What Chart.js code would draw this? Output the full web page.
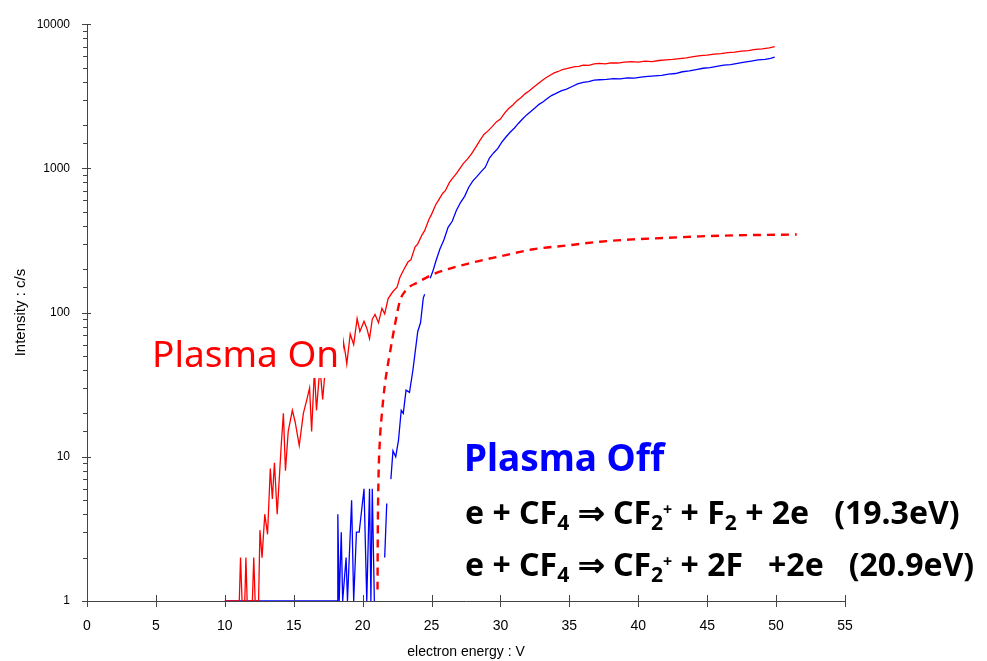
<!DOCTYPE html>
<html>
<head>
<meta charset="utf-8">
<script src="https://cdn.jsdelivr.net/npm/chart.js@4/dist/chart.umd.min.js"></script>
<style>
  html, body { margin: 0; padding: 0; background: #fff; }
  #wrap { position: relative; width: 987px; height: 661px; }
  canvas { position: absolute; left: 0; top: 0; }
  .note { position: absolute; white-space: pre; font-family: "Noto Sans", "Open Sans", sans-serif; }
  #on { left: 150px; top: 333px; width: 193px; height: 45px; background: #fff; color: #ff0000; font-size: 37px; line-height: 40px; padding-left: 2px; box-sizing: border-box; }
  #off { left: 464px; top: 437px; color: #0000ff; font-size: 37px; font-weight: bold; line-height: 40px; }
  .eq { left: 465px; color: #000; font-size: 32px; font-weight: bold; line-height: 40px; }
  .eq .lo, .eq .hi { position: relative; font-size: 0.66em; }
  .eq .lo { top: 0.3em; }
  .eq .hi { top: -0.55em; font-size: 0.5em; }
  #eq1 { top: 492px; }
  #eq2 { top: 544px; }
</style>
</head>
<body>
<div id="wrap">
  <canvas id="chart" width="987" height="661"></canvas>
  <div class="note" id="on">Plasma On</div>
  <div class="note" id="off">Plasma Off</div>
  <div class="note eq" id="eq1">e + CF<span class="lo">4</span> ⇒ CF<span class="lo">2</span><span class="hi">+</span> + F<span class="lo">2</span> + 2e   (19.3eV)</div>
  <div class="note eq" id="eq2">e + CF<span class="lo">4</span> ⇒ CF<span class="lo">2</span><span class="hi">+</span> + 2F   +2e   (20.9eV)</div>
</div>
<script>
// plasma on, measured signal
const onX = [10, 11.05, 11.14, 11.25, 11.45, 11.53, 11.62, 12.0, 12.1, 12.2, 12.45, 12.55, 12.7, 12.9, 13.1, 13.3, 13.45, 13.6, 13.8,
  14.1, 14.25, 14.4, 14.6, 14.9, 15.1, 15.4, 15.7, 16.0, 16.15, 16.3, 16.5, 16.65, 16.9, 17.1, 17.3, 17.5, 17.7, 17.85, 18.2, 18.45,
  18.6, 18.75, 18.85, 19.1, 19.35, 19.6, 19.8, 20.1, 20.3, 20.5, 20.7, 20.9, 21.15, 21.4, 21.6, 21.85, 22.2, 22.5, 22.7,
  23.0, 23.3, 23.5, 23.8, 24.0, 24.3, 24.5, 24.8, 25.0, 25.3, 25.5, 25.8, 26.0, 26.3, 26.5, 26.8, 27.0, 27.3, 27.6, 27.9,
  28.2, 28.5, 28.8, 29.1, 29.4, 29.7, 30.0, 30.3, 30.6, 30.9, 31.2, 31.5, 31.8, 32.1, 32.4, 32.7, 33.0, 33.3, 33.6, 33.9,
  34.2, 34.5, 34.8, 35.1, 35.4, 35.7, 36.0, 36.4, 36.8, 37.2, 37.6, 38.0, 38.5, 39.0, 39.5, 40.0, 40.5, 41.0, 41.5, 42.0,
  42.5, 43.0, 43.5, 44.0, 44.5, 45.0, 45.5, 46.0, 46.5, 47.0, 47.5, 48.0, 48.5, 49.0, 49.5, 49.9];
const onY = [1, 1, 2, 1, 1, 2, 1, 1, 2, 1, 1, 3.1, 2, 4, 2.9, 8.3, 5.1, 9.1, 4,
  12.3, 20, 8, 15, 21, 17.5, 12, 20, 26, 30, 15, 40, 21, 42, 25, 42, 40, 44, 40, 48, 42,
  63, 52, 44, 71, 60, 91, 74, 87, 78, 66, 90, 97, 85, 107, 98, 125, 140, 150, 175,
  200, 225, 232, 285, 300, 345, 370, 440, 480, 560, 600, 670, 700, 800, 850, 920, 980, 1080, 1160, 1260,
  1400, 1560, 1720, 1820, 1950, 2100, 2200, 2420, 2600, 2750, 2950, 3100, 3300, 3450, 3650, 3850, 4050, 4250, 4430, 4600,
  4700, 4850, 4920, 5000, 5080, 5100, 5200, 5180, 5300, 5350, 5300, 5400, 5380, 5450, 5500, 5450, 5550, 5500, 5600, 5650,
  5700, 5780, 5850, 5950, 6050, 6100, 6200, 6250, 6350, 6400, 6500, 6550, 6700, 6750, 6850, 7000];

// plasma off, measured signal (null = gap in trace)
const offX = [10, 18.15, 18.2, 18.3, 18.45, 18.55, 18.8, 18.9, 19.2, 19.35, 19.55, 19.75, 20.1, 20.3, 20.5, 20.6, 20.7, 20.85,
  21.2, 21.6, 21.75, 21.9, 22.05, 22.2, 22.4, 22.6, 22.8, 22.95, 23.15, 23.4, 23.65, 24.0, 24.2, 24.4, 24.5, 24.7,
  24.9, 25.1, 25.3, 25.6, 25.9, 26.2, 26.5, 26.8, 27.1, 27.4, 27.7, 28.0, 28.3, 28.6, 28.9, 29.2, 29.5, 29.8, 30.1,
  30.4, 30.7, 31.0, 31.3, 31.6, 31.9, 32.2, 32.5, 32.8, 33.1, 33.4, 33.7, 34.0, 34.4, 34.8, 35.2, 35.6, 36.0, 36.4,
  36.8, 37.2, 37.7, 38.2, 38.7, 39.2, 39.7, 40.2, 40.7, 41.2, 41.7, 42.2, 42.7, 43.2, 43.7, 44.2, 44.7, 45.2, 45.7,
  46.2, 46.7, 47.2, 47.7, 48.2, 48.7, 49.2, 49.6, 49.9];
const offY = [1, 1, 4, 1, 3, 1, 2, 1, 5, 1, 3, 3, 6, 1, 6, 1, 6, 1,
  null, 2, 4.75, null, 7, 11, 10, 13, 21, 20, 29, 28, 40, 74, 85, 126, 134, null,
  173, 194, 225, 275, 320, 390, 430, 510, 580, 640, 740, 820, 880, 950, 1020, 1180, 1280, 1370, 1520,
  1650, 1780, 1900, 2050, 2200, 2350, 2480, 2620, 2780, 2900, 3050, 3200, 3300, 3450, 3550, 3700, 3850, 3950, 4000,
  4100, 4120, 4150, 4200, 4180, 4250, 4230, 4300, 4350, 4380, 4420, 4500, 4550, 4680, 4750, 4850, 4950, 5000, 5100,
  5200, 5250, 5350, 5450, 5550, 5650, 5700, 5800, 5900];

// dashed curve
const fitX = [21.08, 21.1, 21.15, 21.25, 21.4, 21.6, 22.0, 22.35, 22.7, 23.2, 24.0, 25.1, 27.6, 30.0, 32.4, 34.8, 37.2,
  39.6, 42.1, 44.5, 46.9, 51.5];
const fitY = [1.2, 3, 7, 13, 20, 31, 54, 83, 120, 145, 162, 184, 218, 246, 275, 292, 310, 322, 330, 338, 343, 348];

const xTicks = [0, 5, 10, 15, 20, 25, 30, 35, 40, 45, 50, 55];

const pts = (xs, ys) => xs.map((x, i) => ({ x: x, y: ys[i] }));
const isDecade = v => Math.abs(Math.log10(v) - Math.round(Math.log10(v))) < 1e-9;
const axisColor = "#444";

const tickMarks = {
  id: "tickMarks",
  afterDraw(chart) {
    const { ctx, scales: { x, y } } = chart;
    ctx.save();
    ctx.strokeStyle = axisColor;
    ctx.lineWidth = 1;
    ctx.beginPath();
    y.ticks.forEach(t => {
      const py = Math.round(y.getPixelForValue(t.value)) + 0.5;
      const major = isDecade(t.value);
      ctx.moveTo(x.left - (major ? 5 : 4), py);
      ctx.lineTo(x.left + (major ? 4 : 0), py);
    });
    x.ticks.forEach(t => {
      const px = Math.round(x.getPixelForValue(t.value)) + 0.5;
      ctx.moveTo(px, y.bottom - 6);
      ctx.lineTo(px, y.bottom + 6);
    });
    ctx.stroke();
    ctx.restore();
  }
};

new Chart(document.getElementById("chart"), {
  type: "line",
  data: {
    datasets: [
      {
        label: "Plasma On",
        data: pts(onX, onY),
        borderColor: "#ff0000",
        borderWidth: 1.3,
        pointRadius: 0,
        tension: 0
      },
      {
        label: "fit",
        data: pts(fitX, fitY),
        borderColor: "#ff0000",
        borderWidth: 2.4,
        borderDash: [8, 6],
        pointRadius: 0,
        cubicInterpolationMode: "monotone"
      },
      {
        label: "Plasma Off",
        data: pts(offX, offY),
        borderColor: "#0000ff",
        borderWidth: 1.3,
        pointRadius: 0,
        tension: 0,
        spanGaps: false
      }
    ]
  },
  options: {
    responsive: false,
    animation: false,
    layout: { padding: { left: 0, top: 22, right: 142, bottom: 0 } },
    plugins: { legend: { display: false }, tooltip: { enabled: false } },
    scales: {
      x: {
        type: "linear",
        min: 0,
        max: 55,
        afterFit: s => { s.height = 60; },
        afterBuildTicks: s => { s.ticks = xTicks.map(v => ({ value: v })); },
        grid: { display: false, drawTicks: false },
        border: { color: axisColor, width: 1 },
        ticks: { color: "#000", padding: 17, font: { family: "Liberation Sans", size: 14 } },
        title: {
          display: true,
          text: "electron energy : V",
          color: "#000",
          font: { family: "Liberation Sans", size: 14 },
          padding: { top: 0, bottom: 0 }
        }
      },
      y: {
        type: "logarithmic",
        min: 1,
        max: 10000,
        afterFit: s => { s.width = 87; },
        grid: { display: false, drawTicks: false },
        border: { color: axisColor, width: 1 },
        ticks: {
          autoSkip: false,
          color: "#000",
          padding: 17,
          font: { family: "Liberation Sans", size: 12 },
          callback: v => (isDecade(v) ? String(Math.round(v)) : "")
        },
        title: {
          display: true,
          text: "Intensity : c/s",
          color: "#000",
          font: { family: "Liberation Sans", size: 15 },
          padding: { top: 12, bottom: 0 }
        }
      }
    }
  },
  plugins: [tickMarks]
});
</script>
</body>
</html>
